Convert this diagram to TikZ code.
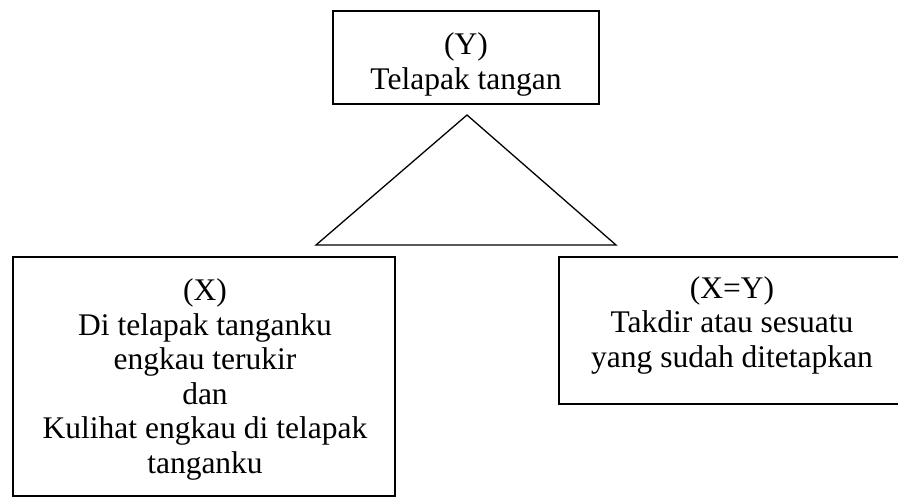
\documentclass[tikz,border=0pt]{standalone}
\usepackage{fontspec}
\setmainfont{Liberation Serif}
\begin{document}
\begin{tikzpicture}[x=1pt,y=-1pt,
  frame/.style={draw,line width=1.5pt,rectangle,inner sep=0pt},
  label/.style={align=center,inner sep=0pt,anchor=base,
    font=\fontsize{31.5}{34.5}\selectfont}]
  \useasboundingbox (0,0) rectangle (898,498);
  \clip (0,0) rectangle (898,498);

  % boxes
  \node[frame,minimum width=266pt,minimum height=93pt]  (ybox) at (466,57.5)  {};
  \node[frame,minimum width=382pt,minimum height=239pt] (xbox) at (204,376.5) {};
  \node[frame,minimum width=346pt,minimum height=147pt] (xybox) at (732,330.5) {};

  % texts (anchored at the baseline of their last line)
  \node[label] (ytext)  at (466,89)  {(Y)\\Telapak tangan};
  \node[label] (xtext)  at (205,473) {(X)\\Di telapak tanganku\\engkau terukir\\dan\\Kulihat engkau di telapak\\tanganku};
  \node[label] (xytext) at (732,367) {(X=Y)\\Takdir atau sesuatu\\yang sudah ditetapkan};

  % triangle between the boxes
  \coordinate (apex)  at (467,115);
  \coordinate (bleft) at (316,245);
  \coordinate (bright) at (616,245);
  \draw[line width=1.3pt,line join=miter] (apex) -- (bleft) -- (bright) -- cycle;
\end{tikzpicture}
\end{document}
